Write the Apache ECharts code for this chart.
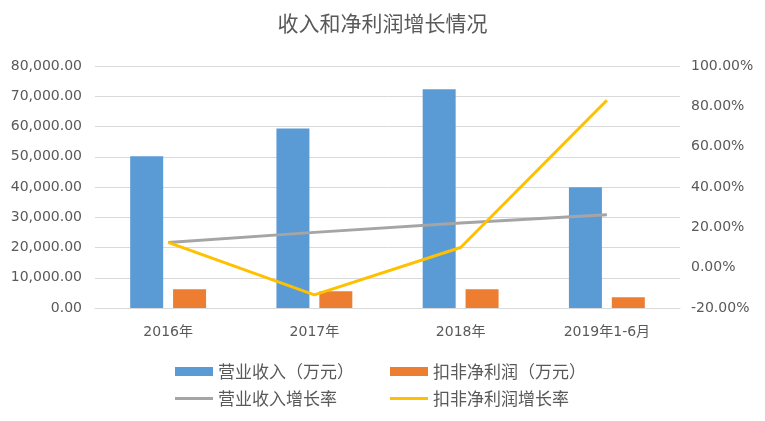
<!DOCTYPE html>
<html>
<head>
    <meta charset="utf-8">
    <title>收入和净利润增长情况</title>
    <script src="https://cdn.jsdelivr.net/npm/echarts@6/dist/echarts.min.js"></script>
    <style>
        html, body { margin: 0; padding: 0; background: #fff; }
    </style>
</head>
<body>
<div id="main" style="width: 765px;height:421px;"></div>
<script>
// 数据
var categories = ['2016年', '2017年', '2018年', '2019年1-6月'];
var revenue = [50200, 59300, 72300, 39900];          // 营业收入（万元）
var netProfit = [6200, 5500, 6200, 3550];            // 扣非净利润（万元）
var revenueGrowth = [12.5, 17.5, 22.2, 26.3];        // 营业收入增长率 %
var profitGrowth = [12.5, -13.5, 10.0, 83.0];        // 扣非净利润增长率 %

var names = ['营业收入（万元）', '扣非净利润（万元）', '营业收入增长率', '扣非净利润增长率'];
var numFont = 'DejaVu Sans, Noto Sans CJK SC, sans-serif';
var cjkFont = 'Noto Sans CJK SC, sans-serif';

// 每个图例单独定位，保证两行对齐
function legendAt(name, left, top, isLine) {
    return {
        data: [{ name: name, icon: 'rect' }],
        left: left,
        top: top,
        itemWidth: 38,
        itemHeight: isLine ? 3 : 9,
        itemGap: 0,
        padding: 0,
        selectedMode: false,
        textStyle: { color: '#595959', fontSize: 17, fontFamily: cjkFont }
    };
}

var option = {
    animation: false,
    title: {
        text: '收入和净利润增长情况',
        left: 'center',
        top: 8,
        textStyle: { color: '#595959', fontSize: 21, fontWeight: 'normal', fontFamily: cjkFont }
    },
    legend: [
        legendAt(names[0], 175, 363, false),
        legendAt(names[1], 390, 363, false),
        legendAt(names[2], 175, 390, true),
        legendAt(names[3], 390, 390, true)
    ],
    grid: { left: 95, right: 85, top: 66, bottom: 113 },
    xAxis: {
        type: 'category',
        data: categories,
        axisTick: { show: false },
        axisLine: { lineStyle: { color: '#d9d9d9', width: 1 } },
        axisLabel: { color: '#595959', fontSize: 14, fontFamily: numFont, margin: 17 }
    },
    yAxis: [
        {
            type: 'value',
            min: 0,
            max: 80000,
            interval: 10000,
            axisLine: { show: false },
            axisTick: { show: false },
            splitLine: { lineStyle: { color: '#d9d9d9', width: 1 } },
            axisLabel: {
                color: '#595959', fontSize: 14, fontFamily: numFont, margin: 13,
                formatter: function (v) {
                    return v.toLocaleString('en-US', { minimumFractionDigits: 2, maximumFractionDigits: 2 });
                }
            }
        },
        {
            type: 'value',
            min: -20,
            max: 100,
            interval: 20,
            axisLine: { show: false },
            axisTick: { show: false },
            splitLine: { show: false },
            axisLabel: {
                color: '#595959', fontSize: 14, fontFamily: numFont, margin: 11,
                formatter: function (v) { return v.toFixed(2) + '%'; }
            }
        }
    ],
    series: [
        {
            name: names[0],
            type: 'bar',
            data: revenue,
            barWidth: 33,
            barGap: '30%',
            itemStyle: { color: '#5b9bd5' }
        },
        {
            name: names[1],
            type: 'bar',
            data: netProfit,
            barWidth: 33,
            itemStyle: { color: '#ed7d31' }
        },
        {
            name: names[2],
            type: 'line',
            yAxisIndex: 1,
            data: revenueGrowth,
            symbol: 'none',
            lineStyle: { color: '#a5a5a5', width: 3 },
            itemStyle: { color: '#a5a5a5' }
        },
        {
            name: names[3],
            type: 'line',
            yAxisIndex: 1,
            data: profitGrowth,
            symbol: 'none',
            lineStyle: { color: '#ffc000', width: 3 },
            itemStyle: { color: '#ffc000' }
        }
    ]
};

var myChart = echarts.init(document.getElementById('main'));
myChart.setOption(option);
</script>
</body>
</html>
